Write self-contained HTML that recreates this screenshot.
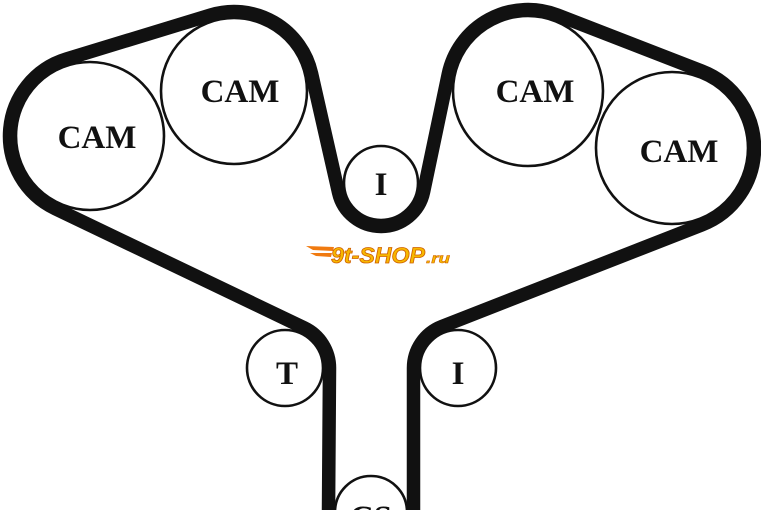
<!DOCTYPE html>
<html><head><meta charset="utf-8"><style>
html,body{margin:0;padding:0;background:#fff;width:761px;height:510px;overflow:hidden;}
svg{display:block}
.t{font-family:"Liberation Serif",serif;font-weight:bold;font-size:33px;fill:#111;text-anchor:middle}
</style></head><body>
<svg id="s" width="761" height="510" viewBox="0 0 761 510" xmlns="http://www.w3.org/2000/svg">
<g fill="none" stroke="#111" stroke-width="2.6">
<circle cx="90" cy="136" r="74"/>
<circle cx="234" cy="91" r="73"/>
<circle cx="381" cy="183" r="37"/>
<circle cx="528" cy="91" r="75"/>
<circle cx="672" cy="148" r="76"/>
<circle cx="458" cy="368" r="38"/>
<circle cx="371" cy="512" r="36"/>
<circle cx="285" cy="368" r="38"/>
</g>
<path id="belt" fill="none" stroke="#111" stroke-width="13.5" stroke-linejoin="round"/>
<text class="t" x="97" y="148">CAM</text>
<text class="t" x="240" y="102">CAM</text>
<text class="t" x="535" y="102">CAM</text>
<text class="t" x="679" y="162">CAM</text>
<text class="t" x="381" y="195">I</text>
<text class="t" x="287" y="384">T</text>
<text class="t" x="458" y="384">I</text>
<text class="t" x="371" y="528">CS</text>
<g>
<polygon points="306,246 334,247 333,251 313,250" fill="#f07a10"/>
<polygon points="310,253 332,253 331,257 316,256" fill="#f07a10"/>
<text x="331" y="263" textLength="94" lengthAdjust="spacingAndGlyphs" font-family="Liberation Sans,sans-serif" font-weight="bold" font-style="italic" font-size="22" fill="#f7b800" stroke="#d06000" stroke-width="0.8">9t-SHOP</text>
<text x="426" y="263" textLength="24" lengthAdjust="spacingAndGlyphs" font-family="Liberation Sans,sans-serif" font-weight="bold" font-style="italic" font-size="14" fill="#f7b800" stroke="#d06000" stroke-width="0.5">.ru</text>
</g>
</svg>
<script>
var P=[[90,136,80.5],[234,91,79.5],[381,183,-43.5],[528,91,81.5],[672,148,82.5],[458,368,-44.5],[371,512,42.5],[285,368,-44.5]];
function tan(a,b){var Dx=b[0]-a[0],Dy=b[1]-a[1],L=Math.hypot(Dx,Dy),ux=Dx/L,uy=Dy/L,wx=-uy,wy=ux;
var A=(a[2]-b[2])/L,B=Math.sqrt(Math.max(0,1-A*A));
for(var sg of [1,-1]){var nx=A*ux+sg*B*wx,ny=A*uy+sg*B*wy,dx=-ny,dy=nx;
if(Dx*dx+Dy*dy>0){return [[a[0]+a[2]*nx,a[1]+a[2]*ny],[b[0]+b[2]*nx,b[1]+b[2]*ny]];}}}
var n=P.length,T=[];for(var i=0;i<n;i++)T.push(tan(P[i],P[(i+1)%n]));
var d="";
for(var i=0;i<n;i++){var inc=T[(i-1+n)%n][1],out=T[i][0],c=P[i],r=Math.abs(c[2]);
var a1=Math.atan2(inc[1]-c[1],inc[0]-c[0]),a2=Math.atan2(out[1]-c[1],out[0]-c[0]);
var del=c[2]>0?a2-a1:a1-a2;while(del<0)del+=2*Math.PI;while(del>=2*Math.PI)del-=2*Math.PI;
if(i==0)d+="M"+inc[0].toFixed(2)+","+inc[1].toFixed(2);
d+=" A"+r+","+r+" 0 "+(del>Math.PI?1:0)+" "+(c[2]>0?1:0)+" "+out[0].toFixed(2)+","+out[1].toFixed(2);
var nx=T[i][1];d+=" L"+nx[0].toFixed(2)+","+nx[1].toFixed(2);}
document.getElementById("belt").setAttribute("d",d+"Z");
</script>
</body></html>
